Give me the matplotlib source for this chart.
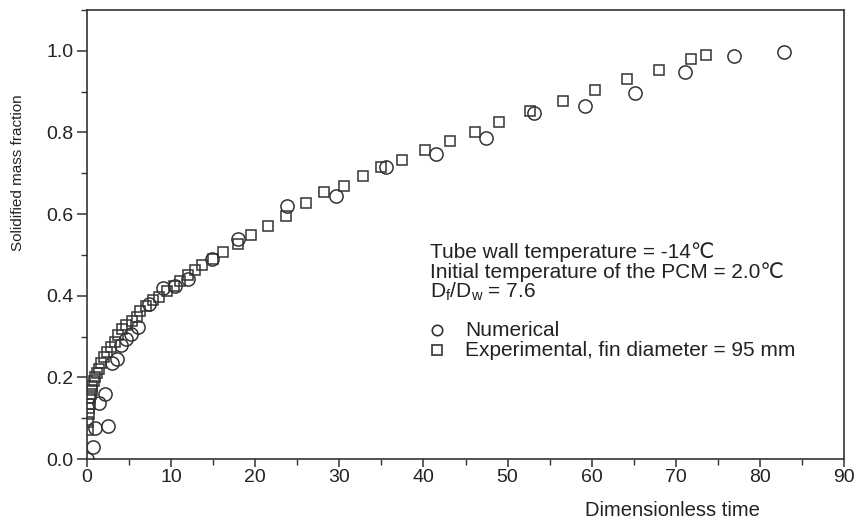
import matplotlib
matplotlib.use("Agg")
import matplotlib.pyplot as plt
from matplotlib.ticker import MultipleLocator

plt.rcParams['font.family'] = ['Liberation Sans', 'DejaVu Sans']

# Numerical solution
num_time = [0.0, 0.75, 0.95, 2.5, 1.45, 2.15, 3.0, 3.6, 4.05, 4.6, 5.2, 6.1, 7.4,
            9.0, 10.5, 12.0, 14.9, 17.9, 23.8, 29.6, 35.6, 41.5, 47.4, 53.2,
            59.2, 65.1, 71.1, 76.9, 82.9]
num_frac = [0.0, 0.03, 0.077, 0.081, 0.138, 0.16, 0.234, 0.244, 0.28, 0.293, 0.307,
            0.323, 0.38, 0.42, 0.423, 0.442, 0.49, 0.54, 0.62, 0.645, 0.716, 0.746,
            0.787, 0.848, 0.865, 0.897, 0.949, 0.988, 0.998]

# Experimental measurements, fin diameter 95 mm
exp_time = [0.1, 0.15, 0.2, 0.25, 0.3, 0.35, 0.45, 0.55, 0.65, 0.8, 1.0, 1.2,
            1.4, 1.7, 2.0, 2.4, 2.8, 3.3, 3.7, 4.2, 4.6, 5.3, 5.9, 6.3, 7.0, 7.8,
            8.6, 9.5, 10.3, 11.1, 12.0, 12.8, 13.7, 15.0, 16.2, 17.9, 19.5, 21.5,
            23.7, 26.0, 28.2, 30.6, 32.8, 35.0, 37.4, 40.2, 43.1, 46.1, 49.0,
            52.7, 56.6, 60.4, 64.2, 68.0, 71.8, 73.6]
exp_frac = [0.07, 0.09, 0.11, 0.125, 0.135, 0.15, 0.16, 0.17, 0.18, 0.19, 0.2, 0.21,
            0.22, 0.234, 0.25, 0.262, 0.274, 0.286, 0.305, 0.318, 0.328, 0.338,
            0.347, 0.362, 0.376, 0.389, 0.398, 0.412, 0.425, 0.435, 0.45, 0.464,
            0.476, 0.49, 0.506, 0.527, 0.549, 0.57, 0.595, 0.626, 0.653, 0.670,
            0.693, 0.716, 0.733, 0.756, 0.778, 0.80, 0.825, 0.852, 0.878, 0.903,
            0.930, 0.954, 0.979, 0.990]

W, H = 856, 519
fig = plt.figure(figsize=(W / 100, H / 100), dpi=100)
ax = fig.add_axes([87 / W, (H - 459) / H, (844 - 87) / W, (459 - 10) / H])

ink = '#333333'
txt = '#222222'
ax.plot(exp_time, exp_frac, linestyle='none', marker='s', ms=7.5, mfc='none',
        mec=ink, mew=1.1)
ax.plot(num_time, num_frac, linestyle='none', marker='o', ms=9.5, mfc='none',
        mec=ink, mew=1.1)

ax.set_xlim(0, 90)
ax.set_ylim(0, 1.1)
ax.xaxis.set_major_locator(MultipleLocator(10))
ax.xaxis.set_minor_locator(MultipleLocator(5))
ax.yaxis.set_major_locator(MultipleLocator(0.2))
ax.yaxis.set_minor_locator(MultipleLocator(0.1))
ax.yaxis.set_major_formatter(plt.FuncFormatter(lambda v, p: f"{v:.1f}"))

for s in ax.spines.values():
    s.set_color(ink)
    s.set_linewidth(1.2)
ax.tick_params(which='major', direction='out', length=7.5, width=1.1, color=ink,
               labelsize=14, labelcolor=txt, top=False, right=False)
ax.tick_params(axis='x', which='major', length=6, pad=1)
ax.tick_params(axis='y', which='major', pad=2)
ax.tick_params(which='minor', direction='out', length=4.5, width=1.0, color=ink,
               top=False, right=False)
ax.tick_params(axis='x', which='minor', length=4)

fig.text(18 / W, 1 - 173 / H, 'Solidified mass fraction', fontsize=11, color=txt,
         rotation=90, ha='center', va='center')
fig.text(672 / W, 1 - 510 / H, 'Dimensionless time', fontsize=14.5,
         color=txt, ha='center', va='center')

# Operating conditions
tx = 430 / W
fs = 15
fig.text(tx, 1 - 252 / H, 'Tube wall temperature = -14\u2103', fontsize=fs,
         color=txt, va='center')
fig.text(tx, 1 - 272 / H, 'Initial temperature of the PCM = 2.0\u2103', fontsize=fs,
         color=txt, va='center')
fig.text(tx, 1 - 292 / H, r'D$_\mathregular{f}$/D$_\mathregular{w}$ = 7.6',
         fontsize=fs, color=txt, va='center')

# Legend entries
fig.lines.append(plt.Line2D([437 / W], [1 - 330 / H], transform=fig.transFigure,
                            marker='o', ms=7.5, mfc='none', mec=ink, mew=1.2,
                            linestyle='none'))
fig.lines.append(plt.Line2D([437 / W], [1 - 350 / H], transform=fig.transFigure,
                            marker='s', ms=7.5, mfc='none', mec=ink, mew=1.2,
                            linestyle='none'))
fig.text(465 / W, 1 - 330 / H, 'Numerical', fontsize=fs, color=txt, va='center')
fig.text(465 / W, 1 - 350 / H, 'Experimental, fin diameter = 95 mm', fontsize=fs,
         color=txt, va='center')

fig.savefig('out.png', dpi=100, facecolor='white')
